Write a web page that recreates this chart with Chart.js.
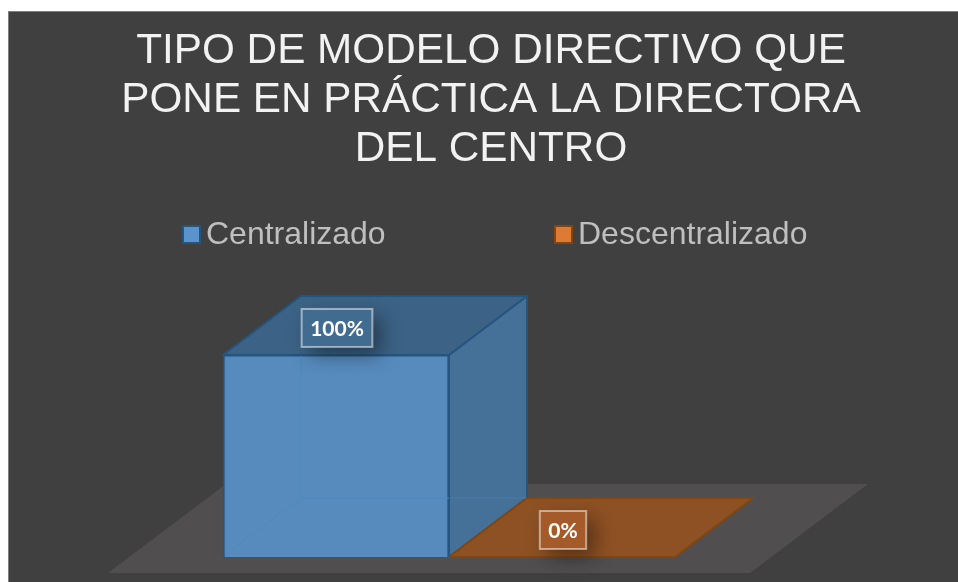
<!DOCTYPE html>
<html>
<head>
<meta charset="utf-8">
<style>html,body{margin:0;padding:0;background:#fff}canvas{display:block}</style>
<script src="https://cdn.jsdelivr.net/npm/chart.js@4"></script>
</head>
<body>
<canvas id="c" width="958" height="582"></canvas>
<script>
const titleLines = ['TIPO DE MODELO DIRECTIVO QUE', 'PONE EN PRÁCTICA LA DIRECTORA', 'DEL CENTRO'];
const categories = ['Centralizado', 'Descentralizado'];
const values = [100, 0];
const frontColors = ['#578bbe', '#8e5124'];
const sideColors = ['#457098', '#8e5124'];
const topColors = ['#3c6285', '#8e5124'];
const edgeColors = ['#25557f', '#84450f'];
const labelFills = ['#426b90', '#a55a2a'];
const legendFills = ['#5b94cc', '#dd7b35'];
const legendX = [182, 554];

const DX = 78, DY = 59;

function poly(ctx, pts, fill, stroke, w) {
  ctx.beginPath();
  pts.forEach((p, i) => i ? ctx.lineTo(p[0], p[1]) : ctx.moveTo(p[0], p[1]));
  ctx.closePath();
  if (fill) { ctx.fillStyle = fill; ctx.fill(); }
  if (stroke) { ctx.strokeStyle = stroke; ctx.lineWidth = w || 2; ctx.lineJoin = 'round'; ctx.stroke(); }
}

const scene = {
  id: 'scene',
  afterLayout(chart) {
    // the title spans the panel, not the narrow plot area
    chart.titleBlock.left = 24;
    chart.titleBlock.right = 958;
  },
  beforeDraw(chart) {
    const ctx = chart.ctx;
    ctx.save();
    ctx.fillStyle = '#ffffff'; ctx.fillRect(0, 0, 958, 582);
    ctx.fillStyle = '#404040'; ctx.fillRect(8, 11, 950, 571);
    ctx.fillStyle = '#7f7f7f';
    ctx.fillRect(8, 11, 950, 1);
    ctx.fillRect(8, 11, 1, 571);
    ctx.restore();
  },
  beforeDatasetsDraw(chart) {
    const ctx = chart.ctx, meta = chart.getDatasetMeta(0), a = chart.chartArea;
    ctx.save();
    // floor
    poly(ctx, [[a.left - 115, a.bottom + 16], [a.right + 75, a.bottom + 16], [a.right + 193, a.bottom - 73], [a.left + 3, a.bottom - 73]], '#504e4e');
    // depth faces
    meta.data.forEach((b, i) => {
      const r = b.x + b.width / 2;
      if (b.base - b.y > 0.5) {
        poly(ctx, [[r, b.y], [r + DX, b.y - DY], [r + DX, b.base - DY], [r, b.base]], sideColors[i], edgeColors[i]);
      }
    });
    [...meta.data].reverse().forEach((b, j) => {
      const i = meta.data.length - 1 - j;
      const l = b.x - b.width / 2, r = b.x + b.width / 2;
      poly(ctx, [[l, b.y], [r, b.y], [r + DX, b.y - DY], [l + DX, b.y - DY]], topColors[i], edgeColors[i]);
    });
    ctx.restore();
  },
  afterDatasetsDraw(chart) {
    const ctx = chart.ctx, meta = chart.getDatasetMeta(0);
    ctx.save();
    // faint hidden edges seen through the front face
    meta.data.forEach((b, i) => {
      if (b.base - b.y < 0.5) return;
      const l = b.x - b.width / 2, r = b.x + b.width / 2;
      ctx.strokeStyle = '#4f88bd'; ctx.lineWidth = 1;
      ctx.beginPath();
      ctx.moveTo(l + DX, b.y + 1); ctx.lineTo(l + DX, b.base - DY);
      ctx.lineTo(r, b.base - DY);
      ctx.moveTo(l + DX, b.base - DY); ctx.lineTo(l + 2, b.base - 2);
      ctx.stroke();
      ctx.strokeStyle = '#4d7ba6';
      ctx.beginPath(); ctx.moveTo(r + 1, b.base - DY); ctx.lineTo(r + DX - 1, b.base - DY); ctx.stroke();
    });
    // data labels
    meta.data.forEach((b, i) => {
      const text = values[i] + '%';
      ctx.font = 'bold 21px Lato, Carlito, sans-serif';
      const w = ctx.measureText(text).width + 17, h = 38;
      const cx = b.x + 1, cy = b.y - 27;
      ctx.save();
      ctx.shadowColor = 'rgba(0,0,0,0.42)'; ctx.shadowBlur = 20; ctx.shadowOffsetX = 8; ctx.shadowOffsetY = 8;
      ctx.fillStyle = labelFills[i];
      ctx.fillRect(cx - w / 2, cy - h / 2, w, h);
      ctx.restore();
      ctx.strokeStyle = 'rgba(255,255,255,0.5)'; ctx.lineWidth = 2;
      ctx.strokeRect(cx - w / 2, cy - h / 2, w, h);
      ctx.fillStyle = '#ffffff'; ctx.textAlign = 'center'; ctx.textBaseline = 'middle';
      ctx.fillText(text, cx, cy + 1);
    });
    // legend
    categories.forEach((name, i) => {
      const x = legendX[i], y = 225;
      ctx.fillStyle = legendFills[i];
      ctx.fillRect(x + 1, y + 1, 17, 17);
      ctx.strokeStyle = edgeColors[i]; ctx.lineWidth = 2;
      ctx.strokeRect(x + 1, y + 1, 17, 17);
      ctx.fillStyle = '#bfbfbf'; ctx.font = '32px "Liberation Sans", Arial, sans-serif';
      ctx.textAlign = 'left'; ctx.textBaseline = 'alphabetic';
      ctx.fillText(name, x + 24, 244);
    });
    ctx.restore();
  }
};

new Chart(document.getElementById('c'), {
  type: 'bar',
  data: {
    labels: categories,
    datasets: [{
      data: values,
      backgroundColor: frontColors,
      borderColor: edgeColors,
      borderWidth: 2,
      barPercentage: 1,
      categoryPercentage: 1
    }]
  },
  options: {
    responsive: false,
    animation: false,
    layout: { padding: { left: 223, right: 283, top: 0, bottom: 25 } },
    scales: {
      x: { display: false },
      y: { display: false, min: 0, max: 100 }
    },
    plugins: {
      legend: { display: false },
      tooltip: { enabled: false },
      title: {
        display: true,
        text: titleLines,
        color: '#f2f2f2',
        font: { family: '"Liberation Sans", Arial, sans-serif', size: 42.3, weight: 'normal', lineHeight: 1.158 },
        padding: { top: 27, bottom: 181 }
      }
    }
  },
  plugins: [scene]
});
</script>
</body>
</html>
